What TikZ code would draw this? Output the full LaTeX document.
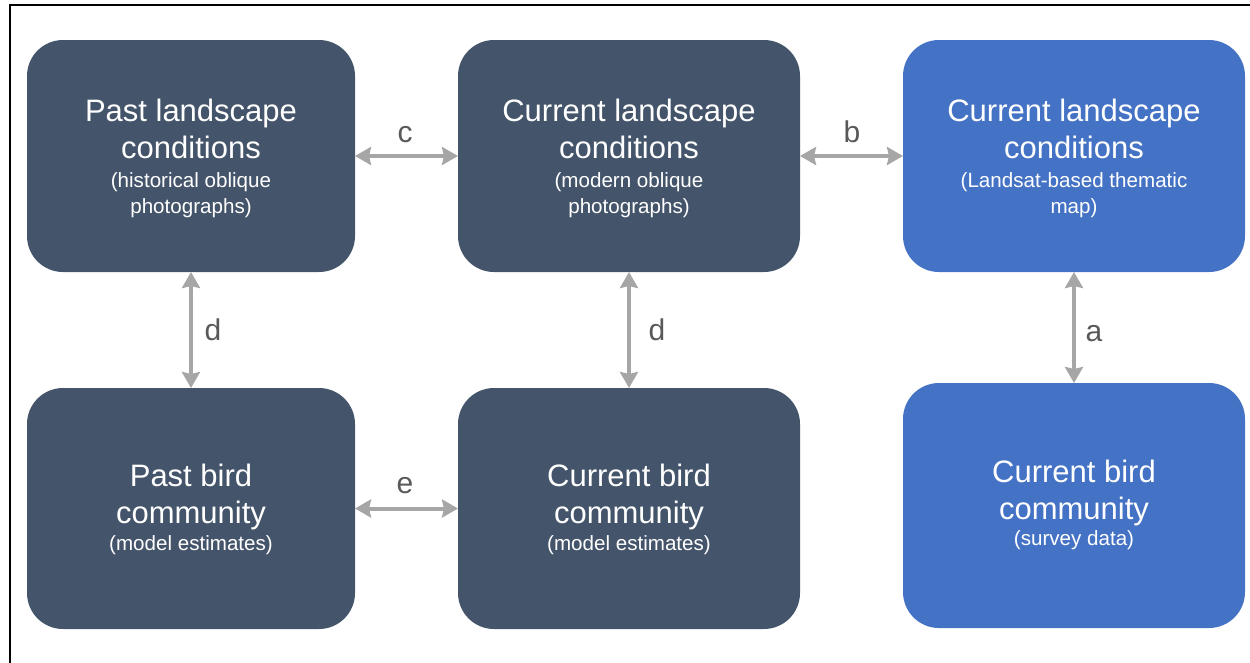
\documentclass[tikz,border=0pt]{standalone}
\usepackage{fontspec}
\setmainfont{Liberation Sans}
\usetikzlibrary{arrows.meta}
\definecolor{slate}{HTML}{44546A}
\definecolor{blueb}{HTML}{4472C4}
\definecolor{arrowgray}{HTML}{A6A6A6}
\definecolor{labelgray}{HTML}{595959}
\begin{document}
\begin{tikzpicture}[x=1pt,y=-1pt,
  box/.style={rounded corners=36pt, inner sep=0pt, outer sep=0pt, draw=none},
  darkbox/.style={box, fill=slate},
  bluebox/.style={box, fill=blueb},
  maintxt/.style={anchor=base, text=white, inner sep=0pt, font=\fontsize{31}{37}\selectfont},
  subtxt/.style={anchor=base, text=white, inner sep=0pt, font=\fontsize{20.6}{26}\selectfont},
  lbl/.style={anchor=base, text=labelgray, inner sep=0pt, font=\fontsize{30}{36}\selectfont},
  conn/.style={draw=arrowgray, line width=4pt, {Stealth[length=16pt,width=18pt,inset=2pt]}-{Stealth[length=16pt,width=18pt,inset=2pt]}},
  frame/.style={draw=black, line width=2pt}]
\useasboundingbox (0,0) rectangle (1250,662);
\draw[frame] (10,663) -- (10,5) -- (1251,5);

% boxes
\node[darkbox, minimum width=328pt, minimum height=232pt] (p1) at (191,156) {};
\node[darkbox, minimum width=342pt, minimum height=232pt] (p2) at (629,156) {};
\node[bluebox, minimum width=342pt, minimum height=232pt] (p3) at (1074,156) {};
\node[darkbox, minimum width=328pt, minimum height=241pt] (p4) at (191,508.5) {};
\node[darkbox, minimum width=342pt, minimum height=241pt] (p5) at (629,508.5) {};
\node[bluebox, minimum width=342pt, minimum height=245pt] (p6) at (1074,505.5) {};

% texts
\node[maintxt] (t1a) at (191,121) {Past landscape};
\node[maintxt] (t1b) at (191,158) {conditions};
\node[subtxt] (t1c) at (191,187) {(historical oblique};
\node[subtxt] (t1d) at (191,213) {photographs)};

\node[maintxt] (t2a) at (629,121) {Current landscape};
\node[maintxt] (t2b) at (629,158) {conditions};
\node[subtxt] (t2c) at (629,187) {(modern oblique};
\node[subtxt] (t2d) at (629,213) {photographs)};

\node[maintxt] (t3a) at (1074,121) {Current landscape};
\node[maintxt] (t3b) at (1074,158) {conditions};
\node[subtxt] (t3c) at (1074,187) {(Landsat-based thematic};
\node[subtxt] (t3d) at (1074,213) {map)};

\node[maintxt] (t4a) at (191,486) {Past bird};
\node[maintxt] (t4b) at (191,523) {community};
\node[subtxt] (t4c) at (191,550) {(model estimates)};

\node[maintxt] (t5a) at (629,486) {Current bird};
\node[maintxt] (t5b) at (629,523) {community};
\node[subtxt] (t5c) at (629,550) {(model estimates)};

\node[maintxt] (t6a) at (1074,482) {Current bird};
\node[maintxt] (t6b) at (1074,519) {community};
\node[subtxt] (t6c) at (1074,545) {(survey data)};

% connectors
\draw[conn] (p1.east) -- (p2.west);
\draw[conn] (p2.east) -- (p3.west);
\draw[conn] (p1.south) -- (p4.north);
\draw[conn] (p2.south) -- (p5.north);
\draw[conn] (p3.south) -- (p6.north);
\draw[conn] (p4.east) -- (p5.west);

% labels
\node[lbl] (lc) at (405,142) {c};
\node[lbl] (lb) at (852,142) {b};
\node[lbl] (ld1) at (213,340) {d};
\node[lbl] (ld2) at (657,340) {d};
\node[lbl] (la) at (1094,341) {a};
\node[lbl] (le) at (405,493) {e};
\end{tikzpicture}
\end{document}
